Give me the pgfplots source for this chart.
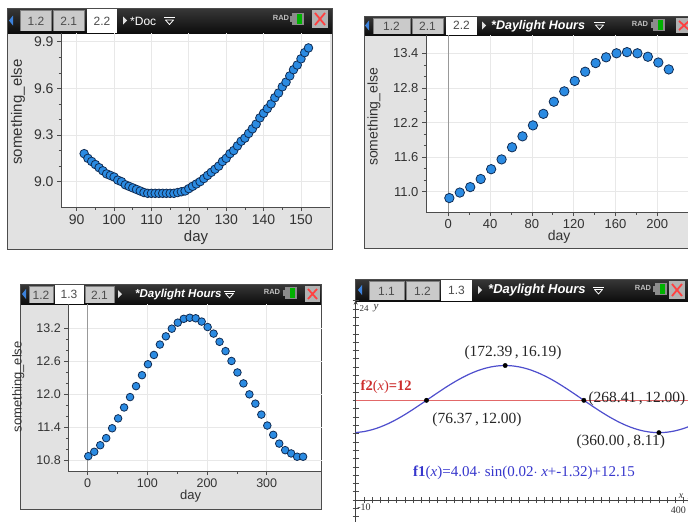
\documentclass[border=0pt]{standalone}
\usepackage{fontspec}
\setmainfont{Liberation Sans}
\newfontfamily\tiserif{Liberation Serif}
\usepackage{pgfplots}
\usepackage{pgfplotstable}
\pgfplotsset{compat=1.18}
\usetikzlibrary{arrows.meta}

\newcommand\fs[1]{\fontsize{#1}{#1}\selectfont}
\definecolor{ptfill}{RGB}{43,139,226}
\definecolor{ptedge}{RGB}{16,44,84}
\definecolor{tiblue}{RGB}{60,130,220}
\definecolor{fblue}{RGB}{78,78,205}
\definecolor{fred}{RGB}{226,104,104}
\definecolor{tred}{RGB}{205,45,45}
\definecolor{tblue}{RGB}{55,55,205}
\definecolor{bodygray}{RGB}{226,226,226}
\definecolor{tabgray}{RGB}{202,202,202}

% header pieces (picture units: 1pt right, 1pt down)
\newcommand\tiL[2]{\fill[tiblue] (#1,#2) -- (#1+4,#2-5) -- (#1+4,#2+5) -- cycle;}
\newcommand\tiR[2]{\fill[black!12] (#1,#2-4) -- (#1+4,#2) -- (#1,#2+4) -- cycle;}
\newcommand\titab[5]{%
  \fill[tabgray] (#1,#3) rectangle (#2,#4);
  \draw[black!50, line width=0.5pt] (#1,#4) -- (#1,#3) -- (#2,#3) -- (#2,#4);
  \node[font=\fs{12}, text=black!70, inner sep=0pt] at ({(#1+#2)/2},{(#3+#4)/2+0.5}) {#5};}
\newcommand\tiatab[5]{%
  \fill[white] (#1,#3) rectangle (#2,#4);
  \node[font=\fs{12}, text=black!70, inner sep=0pt] at ({(#1+#2)/2},{(#3+#4)/2}) {#5};}
\newcommand\tidrop[2]{%
  \draw[white, line width=0.9pt] (#1,#2-3.5) -- (#1+11,#2-3.5);
  \draw[white, line width=0.8pt, line join=round] (#1+1.5,#2-1) -- (#1+9.5,#2-1) -- (#1+5.5,#2+3.5) -- cycle;}
\newcommand\tirad[2]{\node[text=black!25, font=\fs{7.5}\bfseries, inner sep=0pt] at (#1,#2) {RAD};}
\newcommand\tibatt[2]{%
  \fill[black!45] (#1,#2-6) rectangle (#1+12,#2+6);
  \fill[black!45] (#1-2.5,#2-3) rectangle (#1,#2+3);
  \fill[green!70!black] (#1+5,#2-5) rectangle (#1+10,#2+5);}
\newcommand\tix[4]{%
  \fill[black!30] (#1,#2) rectangle (#3,#4);
  \draw[red!75!white, line width=1.8pt] (#1+3,#2+3) -- (#3-3,#4-3) (#1+3,#4-3) -- (#3-3,#2+3);}

\pgfplotsset{
  tiaxis/.style={
    scale only axis,
    axis x line*=bottom, axis y line*=left,
    axis line style={black!70, line width=0.8pt},
    tick align=outside, major tick length=4pt, minor tick length=2.5pt,
    every tick/.style={black!70, line width=0.6pt},
    grid=major, major grid style={black!9, line width=0.7pt},
    tick label style={text=black!80},
    label style={text=black!80},
    /pgf/number format/assume math mode=true,
  },
  tipts/.style={only marks, mark=*, mark size=#1,
    mark options={fill=ptfill, draw=ptedge, line width=0.8pt}},
}

% panel 1: days 92-152
\pgfplotstableread{
day val
92 9.18
93 9.15
94 9.13
95 9.11
96 9.09
97 9.07
98 9.05
99 9.04
100 9.03
101 9.01
102 9.00
103 8.98
104 8.97
105 8.96
106 8.95
107 8.94
108 8.93
109 8.925
110 8.925
111 8.925
112 8.925
113 8.925
114 8.925
115 8.925
116 8.925
117 8.93
118 8.935
119 8.94
120 8.955
121 8.97
122 8.985
123 9.00
124 9.02
125 9.04
126 9.06
127 9.08
128 9.10
129 9.13
130 9.15
131 9.18
132 9.20
133 9.23
134 9.26
135 9.28
136 9.31
137 9.34
138 9.37
139 9.41
140 9.44
141 9.47
142 9.50
143 9.54
144 9.57
145 9.61
146 9.64
147 9.68
148 9.72
149 9.75
150 9.79
151 9.83
152 9.86
}\tA

% panel 2: every 10 days, 1-211
\pgfplotstableread{
day val
1 10.89
11 10.985
21 11.08
31 11.22
41 11.39
51 11.56
61 11.77
71 11.96
81 12.15
91 12.35
101 12.56
111 12.74
121 12.92
131 13.08
141 13.23
151 13.33
161 13.40
171 13.42
181 13.40
191 13.34
201 13.24
211 13.12
}\tB

% panel 3: every 10 days, 1-361
\pgfplotstableread{
day val
1 10.87
11 10.95
21 11.07
31 11.20
41 11.38
51 11.56
61 11.76
71 11.95
81 12.15
91 12.35
101 12.55
111 12.72
121 12.91
131 13.06
141 13.20
151 13.31
161 13.38
171 13.40
181 13.39
191 13.33
201 13.23
211 13.11
221 12.96
231 12.79
241 12.61
251 12.40
261 12.20
271 12.00
281 11.83
291 11.63
301 11.43
311 11.26
321 11.10
331 10.98
341 10.92
351 10.86
361 10.86
}\tC

% panel 4: f1 sampled
\pgfplotstableread{
x y
-10 8.125
0 8.240
10 8.466
20 8.793
30 9.214
40 9.717
50 10.289
60 10.913
70 11.571
80 12.245
90 12.917
100 13.568
110 14.179
120 14.732
130 15.214
140 15.611
150 15.909
160 16.104
170 16.187
180 16.157
190 16.016
200 15.766
210 15.415
220 14.974
230 14.456
240 13.866
250 13.234
260 12.569
270 11.893
280 11.225
290 10.582
300 9.983
310 9.445
320 8.983
330 8.609
340 8.335
350 8.167
360 8.110
370 8.167
380 8.335
390 8.609
400 8.983
}\tD

\begin{document}
\begin{tikzpicture}
\useasboundingbox (0,0) rectangle (688pt,-522pt);
\clip (0,0) rectangle (688pt,-522pt);
\fill[white] (0,0) rectangle (688pt,-522pt);

\begin{scope}[x=1pt,y=-1pt]
% ---- panel 1 frame
\fill[bodygray] (7,8) rectangle (332,249);
\fill[white] (61,33) rectangle (330,207);
\shade[top color=black!78, bottom color=black!95] (7,8) rectangle (332,33);
\tiL{9}{20.5}
\titab{20.5}{51.5}{10.5}{31}{1.2}
\titab{53.5}{84}{10.5}{31}{2.1}
\tiatab{87}{117}{9}{33}{2.2}
\tiR{123}{20.5}
\node[anchor=west, text=white, font=\fs{12}, inner sep=0pt] at (130,21) {*Doc};
\tidrop{164}{21}
\tirad{281}{18}
\tibatt{292}{19}
\tix{312}{10}{328}{28}
\draw[black!70, line width=0.8pt] (7,8) rectangle (332,249);

% ---- panel 2 frame
\fill[bodygray] (364,16) rectangle (700,248);
\fill[white] (426,35) rectangle (700,212);
\shade[top color=black!78, bottom color=black!95] (364,16) rectangle (700,35);
\tiL{365}{25.5}
\titab{373}{410}{18.5}{34}{1.2}
\titab{412}{443}{18.5}{34}{2.1}
\tiatab{446}{477}{16.5}{35}{2.2}
\tiR{482}{25.5}
\node[anchor=west, text=white, font=\fs{12.5}\bfseries\itshape, inner sep=0pt] at (491,26) {*Daylight Hours};
\tidrop{594}{26}
\tirad{640}{24}
\tibatt{653}{25}
\tix{676}{18}{692}{33}
\draw[black!70, line width=0.8pt] (364,16) rectangle (700,248);

% ---- panel 3 frame
\fill[bodygray] (20.7,284) rectangle (321.7,509);
\fill[white] (68.3,304) rectangle (321.7,471);
\shade[top color=black!78, bottom color=black!95] (20.7,284) rectangle (321.7,304);
\tiL{22}{294}
\titab{29}{53}{286}{303}{1.2}
\tiatab{54.5}{83.5}{285}{304}{1.3}
\titab{85}{114}{286}{303}{2.1}
\tiR{118}{294}
\node[anchor=west, text=white, font=\fs{11.5}\bfseries\itshape, inner sep=0pt] at (135,294.5) {*Daylight Hours};
\tidrop{224}{294.5}
\tirad{272}{292}
\tibatt{285}{293}
\tix{305}{286}{320}{302}
\draw[black!70, line width=0.8pt] (20.7,284) rectangle (321.7,509);

% ---- panel 4 frame
\shade[top color=black!78, bottom color=black!95] (355.7,279) rectangle (700,301);
\tiL{358}{290}
\titab{369}{404}{281}{300}{1.1}
\titab{406}{439}{281}{300}{1.2}
\tiatab{441}{472}{280}{301}{1.3}
\tiR{478}{290}
\node[anchor=west, text=white, font=\fs{13}\bfseries\itshape, inner sep=0pt] at (488,290.5) {*Daylight Hours};
\tidrop{593}{290.5}
\tirad{643}{288}
\tibatt{655}{289}
\tix{669}{281}{685}{299}
\draw[black!70, line width=0.8pt] (355.7,530) -- (355.7,279) -- (700,279);
\end{scope}

% ---- panel 1 plot
\begin{axis}[tiaxis, at={(61pt,-207pt)}, anchor=south west,
  width=269pt, height=174pt,
  xmin=85.8, xmax=157.76, ymin=8.837, ymax=9.956,
  xtick={90,100,...,150}, ytick={9.0,9.3,9.6,9.9},
  minor x tick num=1, minor y tick num=2,
  yticklabel style={/pgf/number format/.cd, fixed, fixed zerofill, precision=1},
  tick label style={font=\fs{14}},
  xlabel={day}, ylabel={something\_else},
  xlabel style={at={(axis description cs:0.502,-0.178)}, anchor=center, font=\fs{15}},
  ylabel style={at={(axis description cs:-0.16,0.546)}, anchor=center, font=\fs{15}},
]
\addplot[tipts=4.3pt] table[x=day, y=val] {\tA};
\end{axis}

% ---- panel 2 plot
\begin{axis}[tiaxis, at={(426pt,-212pt)}, anchor=south west,
  width=262pt, height=177pt,
  xmin=-21.34, xmax=229.4, ymin=10.648, ymax=13.717,
  xtick={0,40,...,200}, ytick={11.0,11.6,12.2,12.8,13.4},
  minor x tick num=1, minor y tick num=2,
  yticklabel style={/pgf/number format/.cd, fixed, fixed zerofill, precision=1},
  tick label style={font=\fs{13}},
  xlabel={day}, ylabel={something\_else},
  xlabel style={at={(axis description cs:0.508,-0.14)}, anchor=center, font=\fs{14}},
  ylabel style={at={(axis description cs:-0.198,0.538)}, anchor=center, font=\fs{14}},
]
\draw[black!40, line width=0.7pt] (axis cs:0,10.648) -- (axis cs:0,13.717);
\addplot[tipts=4.7pt] table[x=day, y=val] {\tB};
\end{axis}

% ---- panel 3 plot
\begin{axis}[tiaxis, at={(68.3pt,-471pt)}, anchor=south west,
  width=253.4pt, height=167pt,
  xmin=-32.5, xmax=392.2, ymin=10.599, ymax=13.651,
  xtick={0,100,200,300}, ytick={10.8,11.4,12.0,12.6,13.2},
  minor x tick num=1, minor y tick num=2,
  yticklabel style={/pgf/number format/.cd, fixed, fixed zerofill, precision=1},
  tick label style={font=\fs{12.5}},
  xlabel={day}, ylabel={something\_else},
  xlabel style={at={(axis description cs:0.483,-0.149)}, anchor=center, font=\fs{13}},
  ylabel style={at={(axis description cs:-0.197,0.504)}, anchor=center, font=\fs{13}},
]
\draw[black!40, line width=0.7pt] (axis cs:0,10.599) -- (axis cs:0,13.651);
\addplot[tipts=3.8pt] table[x=day, y=val] {\tC};
\end{axis}

% ---- panel 4 graph
\begin{axis}[at={(355.7pt,-300.6pt)}, anchor=north west, scale only axis,
  width=336pt, height=224.4pt,
  xmin=-10, xmax=400, ymin=-3, ymax=24,
  axis x line=middle, axis y line=left,
  axis line style={black!75, line width=0.7pt, -{Stealth[length=4pt, width=4pt]}},
  xtick distance=10, ytick distance=1,
  xticklabels={}, yticklabels={},
  tick align=center, major tick length=6pt,
  every tick/.style={black!70, line width=0.6pt},
]
\addplot[fred, line width=1.2pt] coordinates {(-10,12) (400,12)};
\addplot[fblue, line width=1.2pt, smooth] table[x=x, y=y] {\tD};
\addplot[only marks, mark=*, mark size=2.2pt, black] coordinates {(76.37,12) (172.39,16.19) (268.41,12) (360,8.11)};
\end{axis}

\begin{scope}[x=1pt,y=-1pt]
\tiserif
\node[font=\fs{15.5}, text=black!85] at (513,352.5) {(172.39\,,\,16.19)};
\node[font=\fs{15.5}, text=black!85, anchor=west] at (585,399) {(268.41\,,\,12.00)};
\node[font=\fs{15.5}, text=black!85] at (477,420) {(76.37\,,\,12.00)};
\node[font=\fs{15.5}, text=black!85, anchor=west] at (573,441.5) {(360.00\,,\,8.11)};
\node[font=\fs{14.5}, text=tred, anchor=west, inner sep=0pt] at (360.5,387) {\textbf{f2}(\textit{x})\textbf{=12}};
\node[font=\fs{15}, text=tblue] at (524,472.5) {\textbf{f1}(\textit{x})=4.04$\cdot$ sin(0.02$\cdot$ \textit{x}+-1.32)+12.15};
\node[font=\fs{9}, text=black!80, inner sep=0pt] at (364,308.5) {24};
\node[font=\fs{11}\itshape, text=black!80, inner sep=0pt] at (376,308) {y};
\node[font=\fs{10}, text=black!80, inner sep=0pt] at (364,507) {-10};
\node[font=\fs{10}, text=black!80, inner sep=0pt, anchor=east] at (686,510) {400};
\node[font=\fs{10}\itshape, text=black!80, inner sep=0pt] at (681,496) {x};
\end{scope}
\end{tikzpicture}
\end{document}
